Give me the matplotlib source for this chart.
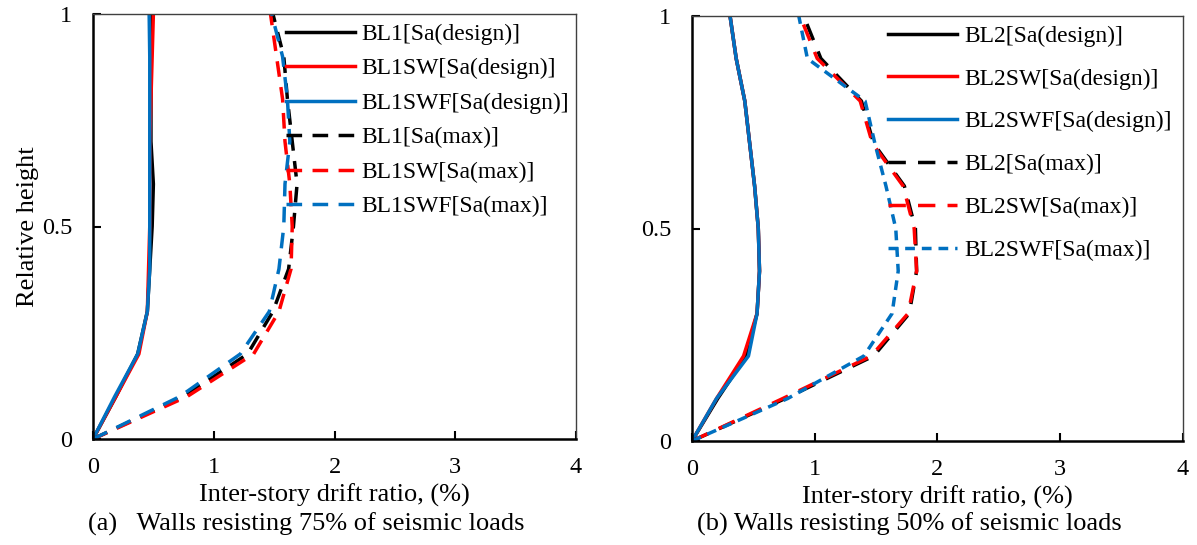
import numpy as np
import matplotlib
matplotlib.use('Agg')
import matplotlib.pyplot as plt

plt.rcParams['font.family'] = ['Liberation Serif', 'DejaVu Serif']
plt.rcParams['mathtext.fontset'] = 'stix'

# relative height of each storey level
heights = [0, 0.1, 0.2, 0.3, 0.4, 0.5, 0.6, 0.7, 0.8, 0.9, 1.0]

# panel (a): walls resisting 75% of seismic loads
bl1_design = [0, 0.19, 0.37, 0.45, 0.47, 0.49, 0.50, 0.48, 0.48, 0.48, 0.48]
bl1sw_design = [0, 0.19, 0.38, 0.45, 0.46, 0.47, 0.47, 0.47, 0.48, 0.49, 0.50]
bl1swf_design = [0, 0.18, 0.37, 0.45, 0.47, 0.47, 0.47, 0.47, 0.47, 0.47, 0.465]
bl1_max = [0, 0.75, 1.28, 1.49, 1.62, 1.66, 1.69, 1.65, 1.61, 1.58, 1.49]
bl1sw_max = [0, 0.78, 1.33, 1.54, 1.64, 1.65, 1.63, 1.59, 1.57, 1.52, 1.47]
bl1swf_max = [0, 0.72, 1.22, 1.46, 1.54, 1.58, 1.59, 1.63, 1.61, 1.57, 1.48]

# panel (b): walls resisting 50% of seismic loads
bl2_design = [0, 0.21, 0.44, 0.53, 0.55, 0.54, 0.51, 0.47, 0.43, 0.36, 0.31]
bl2sw_design = [0, 0.20, 0.42, 0.53, 0.55, 0.54, 0.51, 0.47, 0.43, 0.36, 0.31]
bl2swf_design = [0, 0.20, 0.46, 0.53, 0.55, 0.54, 0.51, 0.47, 0.43, 0.36, 0.31]
bl2_max = [0, 0.76, 1.48, 1.77, 1.83, 1.82, 1.73, 1.48, 1.38, 1.05, 0.91]
bl2sw_max = [0, 0.74, 1.46, 1.76, 1.83, 1.81, 1.72, 1.47, 1.37, 1.02, 0.88]
bl2swf_max = [0, 0.78, 1.40, 1.63, 1.68, 1.66, 1.58, 1.49, 1.41, 0.94, 0.87]

x_ticks = [0, 1, 2, 3, 4]
y_ticks = [0, 0.5, 1]
y_tick_labels = ['0', '0.5', '1']

BLACK = '#000000'
RED = '#FF0000'
BLUE = '#0070C0'

fig = plt.figure(figsize=(11.97, 5.45), dpi=100)
ax1 = fig.add_axes([93 / 1197, 1 - 439 / 545, 483 / 1197, 425 / 545])
ax2 = fig.add_axes([692 / 1197, 1 - 441 / 545, 491 / 1197, 425 / 545])


def style_axis(ax):
    ax.set_xlim(0, 4)
    ax.set_ylim(0, 1)
    ax.set_xticks(x_ticks)
    ax.set_yticks(y_ticks)
    ax.set_yticklabels(y_tick_labels)
    ax.tick_params(direction='in', length=6, width=1.5, labelsize=17.5)
    ax.tick_params(axis='x', pad=13)
    ax.tick_params(axis='y', pad=15)
    for side in ['left', 'bottom']:
        ax.spines[side].set_linewidth(1.8)
        ax.spines[side].set_color('black')
    for side in ['top', 'right']:
        ax.spines[side].set_linewidth(1.0)
        ax.spines[side].set_color('#404040')
    ax.set_xlabel('Inter-story drift ratio, (%)', fontsize=19, labelpad=4)


# left panel
lw = 2.5
ax1.plot(bl1_design, heights, color=BLACK, lw=lw, label='BL1[Sa(design)]')
ax1.plot(bl1sw_design, heights, color=RED, lw=lw, label='BL1SW[Sa(design)]')
ax1.plot(bl1swf_design, heights, color=BLUE, lw=lw, label='BL1SWF[Sa(design)]')
ax1.plot(bl1_max, heights, color=BLACK, lw=lw, dashes=(4.5, 3), label='BL1[Sa(max)]')
ax1.plot(bl1sw_max, heights, color=RED, lw=lw, dashes=(4.5, 3), label='BL1SW[Sa(max)]')
ax1.plot(bl1swf_max, heights, color=BLUE, lw=lw, dashes=(4.5, 3), label='BL1SWF[Sa(max)]')
style_axis(ax1)
ax1.set_ylabel('Relative height', fontsize=19, labelpad=2)
ax1.legend(loc='upper left', bbox_to_anchor=(0.40, 0.978), frameon=False,
           fontsize=17, handlelength=2.9, handletextpad=0.3,
           labelspacing=0.55, borderpad=0, borderaxespad=0)

# right panel
ax2.plot(bl2_design, heights, color=BLACK, lw=lw, label='BL2[Sa(design)]')
ax2.plot(bl2sw_design, heights, color=RED, lw=lw, label='BL2SW[Sa(design)]')
ax2.plot(bl2swf_design, heights, color=BLUE, lw=lw, label='BL2SWF[Sa(design)]')
ax2.plot(bl2_max, heights, color=BLACK, lw=lw, dashes=(5, 3.5), label='BL2[Sa(max)]')
ax2.plot(bl2sw_max, heights, color=RED, lw=lw, dashes=(5, 3.5), label='BL2SW[Sa(max)]')
ax2.plot(bl2swf_max, heights, color=BLUE, lw=lw, dashes=(2.8, 2), label='BL2SWF[Sa(max)]')
style_axis(ax2)
ax2.legend(loc='upper left', bbox_to_anchor=(0.40, 0.978), frameon=False,
           fontsize=17, handlelength=2.9, handletextpad=0.3,
           labelspacing=0.9, borderpad=0, borderaxespad=0)

fig.text(88 / 1197, 1 - 524 / 545, '(a)   Walls resisting 75% of seismic loads',
         fontsize=19, ha='left', va='center')
fig.text(697 / 1197, 1 - 524 / 545, '(b) Walls resisting 50% of seismic loads',
         fontsize=19, ha='left', va='center')

fig.savefig('out.png', dpi=100)
